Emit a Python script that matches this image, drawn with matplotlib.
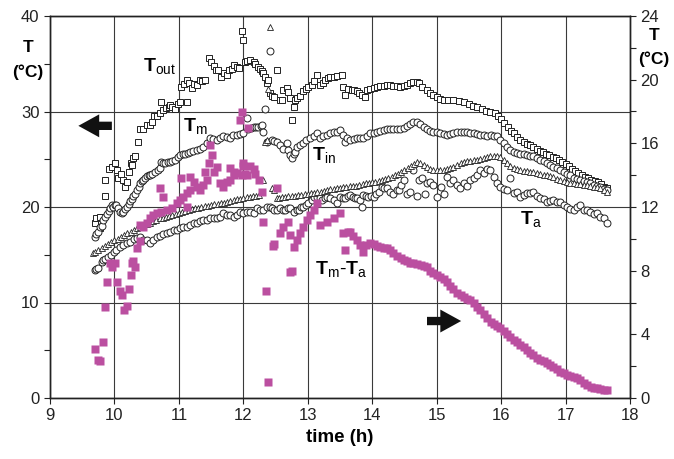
import matplotlib.pyplot as plt
import numpy as np

plt.rcParams['font.family'] = ['Liberation Sans', 'DejaVu Sans']
plt.rcParams['mathtext.fontset'] = 'custom'
plt.rcParams['mathtext.rm'] = 'Liberation Sans'
plt.rcParams['mathtext.bf'] = 'Liberation Sans:bold'

# outlet temperature (open squares), degC
out_t = [9.70, 9.72, 9.78, 9.78, 9.85, 9.85, 9.91, 9.96, 10.01, 10.04, 10.06, 10.10, 10.14, 10.16,
         10.19, 10.22, 10.25, 10.27, 10.29, 10.32, 10.37, 10.40, 10.45, 10.50, 10.55, 10.58, 10.62,
         10.66, 10.71, 10.73, 10.76, 10.80, 10.84, 10.86, 10.90, 10.94, 10.99, 11.02, 11.04, 11.08,
         11.12, 11.12, 11.16, 11.20, 11.24, 11.28, 11.32, 11.36, 11.41, 11.46, 11.50, 11.55, 11.58,
         11.61, 11.66, 11.70, 11.74, 11.78, 11.82, 11.86, 11.90, 11.94, 11.98, 12.00, 12.03, 12.06,
         12.11, 12.16, 12.18, 12.23, 12.26, 12.29, 12.31, 12.34, 12.36, 12.39, 12.42, 12.44, 12.47,
         12.52, 12.57, 12.60, 12.62, 12.67, 12.70, 12.73, 12.75, 12.78, 12.80, 12.84, 12.88, 12.93,
         12.97, 13.01, 13.06, 13.10, 13.14, 13.19, 13.23, 13.27, 13.31, 13.35, 13.40, 13.45, 13.53,
         13.55, 13.58, 13.63, 13.68, 13.72, 13.76, 13.80, 13.84, 13.89, 13.92, 13.97, 14.02, 14.07,
         14.12, 14.18, 14.23, 14.28, 14.33, 14.38, 14.43, 14.49, 14.54, 14.59, 14.64, 14.69, 14.73,
         14.78, 14.85, 14.90, 14.95, 15.00, 15.05, 15.11, 15.18, 15.26, 15.35, 15.43, 15.50, 15.57,
         15.63, 15.70, 15.77, 15.83, 15.90, 15.95, 16.00, 16.05, 16.10, 16.15, 16.20, 16.25, 16.30,
         16.35, 16.40, 16.45, 16.50, 16.55, 16.60, 16.65, 16.70, 16.75, 16.80, 16.85, 16.90, 16.95,
         17.00, 17.05, 17.10, 17.15, 17.20, 17.25, 17.30, 17.35, 17.40, 17.45, 17.50, 17.55, 17.60,
         17.64]
out_v = [18.3, 18.8, 19.0, 17.8, 21.1, 22.8, 24.0, 24.2, 24.6, 23.9, 23.0, 23.5, 22.8, 22.1,
         22.6, 23.7, 24.6, 24.4, 25.1, 25.3, 26.8, 28.2, 28.2, 28.6, 28.6, 28.9, 29.5,
         29.5, 29.8, 31.0, 30.2, 30.4, 30.5, 30.7, 30.5, 30.3, 30.8, 31.0, 32.6, 32.9,
         33.3, 31.0, 33.0, 32.5, 32.9, 32.8, 33.3, 33.2, 33.3, 35.6, 35.2, 34.8, 34.3,
         34.3, 33.6, 34.0, 33.8, 34.3, 34.5, 34.9, 34.7, 34.6, 38.4, 37.5, 35.2, 35.3,
         35.4, 35.2, 35.0, 34.7, 34.4, 34.2, 34.0, 33.6, 33.0, 33.3, 31.9, 31.6, 31.5,
         34.3, 31.2, 31.2, 32.3, 32.5, 32.0, 31.4, 29.1, 30.5, 31.2, 31.4, 31.6, 32.1,
         32.4, 32.6, 32.8, 33.2, 33.8, 32.8, 33.0, 33.3, 33.5, 33.6, 33.6, 33.7, 33.8,
         32.6, 31.7, 32.4, 32.3, 32.2, 32.1, 31.9, 31.7, 31.5, 32.2, 32.4, 32.5, 32.6,
         32.7, 32.7, 32.8, 32.8, 32.7, 32.7, 32.6, 32.7, 32.8, 33.0, 33.1, 33.1, 33.0,
         32.6, 32.2, 31.9, 31.7, 31.5, 31.3, 31.2, 31.2, 31.2, 31.1, 31.0, 30.8, 30.6,
         30.5, 30.3, 30.1, 30.0, 29.8, 29.5, 29.2, 28.8, 28.4, 28.0, 27.7, 27.3, 27.0,
         26.8, 26.6, 26.5, 26.3, 26.1, 25.9, 25.8, 25.6, 25.4, 25.2, 25.1, 24.9, 24.7,
         24.5, 24.3, 24.0, 23.8, 23.6, 23.4, 23.1, 23.0, 22.8, 22.7, 22.6, 22.4, 22.1,
         22.0]

# inlet temperature (open circles, upper band)
in_t = [9.70, 9.72, 9.75, 9.78, 9.80, 9.83, 9.86, 9.88, 9.91, 9.93, 9.96, 9.98, 10.01, 10.03,
        10.06, 10.09, 10.12, 10.14, 10.17, 10.19, 10.22, 10.24, 10.27, 10.29, 10.32, 10.35, 10.38,
        10.40, 10.43, 10.45, 10.48, 10.50, 10.53, 10.55, 10.59, 10.63, 10.67, 10.71, 10.73, 10.76,
        10.79, 10.83, 10.86, 10.90, 10.94, 10.98, 11.02, 11.06, 11.10, 11.14, 11.17, 11.22, 11.28,
        11.33, 11.38, 11.43, 11.48, 11.53, 11.59, 11.64, 11.69, 11.74, 11.79, 11.84, 11.90, 11.95,
        12.00, 12.05, 12.08, 12.12, 12.16, 12.20, 12.23, 12.27, 12.29, 12.31, 12.34, 12.36, 12.42,
        12.44, 12.48, 12.52, 12.57, 12.62, 12.67, 12.70, 12.73, 12.75, 12.78, 12.80, 12.83, 12.88,
        12.93, 12.98, 13.04, 13.09, 13.14, 13.19, 13.24, 13.30, 13.35, 13.40, 13.45, 13.50, 13.55,
        13.58, 13.61, 13.66, 13.71, 13.76, 13.81, 13.86, 13.92, 13.97, 14.02, 14.07, 14.12, 14.18,
        14.23, 14.28, 14.33, 14.38, 14.43, 14.49, 14.54, 14.59, 14.64, 14.69, 14.74, 14.80, 14.85,
        14.90, 14.95, 15.00, 15.05, 15.11, 15.16, 15.21, 15.26, 15.31, 15.37, 15.42, 15.47, 15.52,
        15.58, 15.63, 15.68, 15.73, 15.78, 15.84, 15.89, 15.94, 15.99, 16.04, 16.09, 16.14, 16.20,
        16.25, 16.30, 16.35, 16.40, 16.45, 16.50, 16.55, 16.60, 16.66, 16.71, 16.76, 16.81, 16.86,
        16.92, 16.97, 17.02, 17.07, 17.13, 17.18, 17.23, 17.28, 17.33, 17.38, 17.44, 17.49, 17.54,
        17.59, 17.64]
in_v = [16.9, 17.2, 17.4, 17.9, 18.0, 18.6, 19.0, 19.3, 19.6, 19.85, 20.2, 20.0, 20.2, 20.2,
        19.9, 19.5, 19.4, 19.5, 19.8, 20.0, 20.3, 20.6, 20.8, 21.1, 21.4, 21.8, 22.1,
        22.5, 22.7, 22.8, 23.0, 23.2, 23.3, 23.35, 23.5, 23.7, 23.9, 24.05, 24.75, 24.6,
        24.6, 24.7, 24.75, 24.8, 24.9, 25.2, 25.45, 25.5, 25.6, 25.7, 25.8, 25.9, 26.0,
        26.1, 26.3, 26.7, 27.2, 27.1, 27.0, 27.2, 27.4, 27.3, 27.2, 27.5, 27.55, 27.6,
        27.7, 29.3, 28.2, 28.3, 28.4, 28.4, 28.4, 28.5, 28.6, 27.9, 30.3, 26.8, 36.3,
        27.0, 26.9, 26.8, 26.5, 26.1, 26.7, 25.97, 25.45, 25.1, 25.6, 25.8, 26.3, 26.5,
        26.7, 27.0, 27.2, 27.4, 27.7, 27.2, 27.4, 27.55, 27.7, 27.9, 27.9, 28.1, 27.55,
        26.8, 27.2, 27.0, 27.1, 27.2, 27.2, 27.2, 27.4, 27.7, 27.8, 27.9, 28.0, 28.1,
        28.2, 28.2, 28.2, 28.2, 28.2, 28.3, 28.5, 28.7, 28.9, 28.9, 28.7, 28.4, 28.2,
        28.0, 27.9, 27.9, 27.7, 27.6, 27.5, 27.6, 27.8, 27.9, 27.9, 27.9, 27.9, 27.8,
        27.7, 27.6, 27.5, 27.5, 27.4, 27.5, 27.4, 27.4, 27.0, 26.7, 26.3, 26.0, 25.8,
        25.7, 25.6, 25.5, 25.4, 25.3, 25.3, 25.1, 24.9, 24.8, 24.6, 24.4, 24.2, 24.1,
        23.9, 23.7, 23.5, 23.3, 23.0, 22.9, 22.8, 22.7, 22.65, 22.5, 22.3, 22.2, 22.1,
        21.9, 21.8]

# mean temperature (open triangles)
m_t = [9.67, 9.70, 9.75, 9.80, 9.85, 9.90, 9.95, 10.00, 10.05, 10.10, 10.15, 10.20, 10.25, 10.30,
       10.35, 10.40, 10.45, 10.50, 10.55, 10.60, 10.65, 10.70, 10.75, 10.80, 10.85, 10.90, 10.95,
       11.00, 11.05, 11.10, 11.15, 11.20, 11.25, 11.30, 11.35, 11.40, 11.45, 11.50, 11.55, 11.60,
       11.65, 11.70, 11.75, 11.80, 11.85, 11.90, 11.95, 12.00, 12.05, 12.10, 12.15, 12.20, 12.25,
       12.31, 12.34, 12.36, 12.39, 12.42, 12.44, 12.48, 12.52, 12.56, 12.60, 12.65, 12.70, 12.75,
       12.80, 12.85, 12.90, 12.95, 13.00, 13.05, 13.10, 13.15, 13.20, 13.25, 13.30, 13.35, 13.40,
       13.45, 13.50, 13.55, 13.60, 13.65, 13.70, 13.75, 13.80, 13.85, 13.90, 13.95, 14.00, 14.05,
       14.10, 14.15, 14.20, 14.25, 14.30, 14.35, 14.40, 14.45, 14.50, 14.55, 14.60, 14.65, 14.69,
       14.74, 14.80, 14.85, 14.90, 14.95, 15.00, 15.05, 15.11, 15.16, 15.21, 15.26, 15.31, 15.37,
       15.42, 15.47, 15.52, 15.58, 15.63, 15.68, 15.73, 15.78, 15.83, 15.89, 15.94, 15.99, 16.04,
       16.09, 16.14, 16.20, 16.25, 16.30, 16.35, 16.40, 16.45, 16.50, 16.55, 16.61, 16.66, 16.71,
       16.76, 16.81, 16.86, 16.92, 16.97, 17.02, 17.07, 17.13, 17.18, 17.23, 17.28, 17.33, 17.38,
       17.44, 17.49, 17.54, 17.59, 17.64]
m_v = [15.2, 15.3, 15.5, 15.7, 15.9, 16.1, 16.3, 16.5, 16.7, 16.9, 17.1, 17.3, 17.4, 17.6,
       17.8, 17.9, 18.0, 18.2, 18.3, 18.5, 18.6, 18.8, 18.9, 19.0, 19.1, 19.2, 19.3,
       19.4, 19.5, 19.6, 19.7, 19.8, 19.85, 19.9, 20.0, 20.1, 20.15, 20.2, 20.3, 20.35,
       20.4, 20.45, 20.5, 20.6, 20.7, 20.8, 20.85, 20.9, 21.0, 21.0, 21.1, 21.2, 21.3,
       22.8, 26.8, 27.0, 32.4, 38.9, 21.96, 21.8, 20.9, 20.95, 21.0, 21.05, 21.1, 21.15,
       21.2, 21.25, 21.3, 21.35, 21.4, 21.45, 21.5, 21.55, 21.6, 21.7, 21.8, 21.85, 21.9,
       21.95, 22.0, 22.05, 22.1, 22.15, 22.2, 22.25, 22.3, 22.4, 22.5, 22.55, 22.6, 22.65,
       22.7, 22.8, 22.9, 23.0, 23.1, 23.3, 23.5, 23.7, 23.9, 24.1, 24.3, 24.5, 24.7,
       24.6, 24.4, 24.2, 24.0, 23.9, 23.9, 23.9, 23.9, 24.0, 24.1, 24.2, 24.4, 24.6,
       24.7, 24.8, 24.85, 24.9, 24.9, 25.0, 25.1, 25.2, 25.3, 25.3, 25.3, 25.2, 24.9,
       24.6, 24.3, 24.1, 24.0, 23.9, 23.8, 23.75, 23.7, 23.7, 23.6, 23.5, 23.4, 23.35,
       23.2, 23.1, 22.95, 22.8, 22.7, 22.6, 22.55, 22.5, 22.45, 22.4, 22.35, 22.3, 22.2,
       22.1, 22.05, 22.0, 21.8, 21.6]

# ambient temperature (open circles, lower band)
a_t = [9.70, 9.72, 9.75, 9.80, 9.83, 9.86, 9.90, 9.95, 10.00, 10.03, 10.08, 10.14, 10.19, 10.24,
       10.30, 10.35, 10.40, 10.45, 10.50, 10.55, 10.60, 10.66, 10.71, 10.76, 10.81, 10.86, 10.92,
       10.97, 11.02, 11.07, 11.12, 11.17, 11.23, 11.28, 11.33, 11.38, 11.43, 11.48, 11.54, 11.59,
       11.64, 11.69, 11.74, 11.79, 11.85, 11.90, 11.95, 12.00, 12.05, 12.10, 12.16, 12.21, 12.26,
       12.31, 12.36, 12.41, 12.44, 12.48, 12.52, 12.57, 12.62, 12.65, 12.70, 12.73, 12.78, 12.83,
       12.86, 12.90, 12.93, 12.98, 13.01, 13.06, 13.10, 13.14, 13.19, 13.22, 13.26, 13.30, 13.35,
       13.40, 13.45, 13.50, 13.55, 13.58, 13.62, 13.66, 13.70, 13.73, 13.77, 13.81, 13.84, 13.86,
       13.90, 13.94, 13.98, 14.02, 14.06, 14.10, 14.15, 14.19, 14.23, 14.28, 14.33, 14.38, 14.41,
       14.45, 14.49, 14.54, 14.59, 14.64, 14.69, 14.72, 14.77, 14.82, 14.85, 14.90, 14.95, 15.00,
       15.06, 15.11, 15.16, 15.21, 15.26, 15.31, 15.36, 15.42, 15.47, 15.52, 15.58, 15.63, 15.68,
       15.73, 15.78, 15.83, 15.89, 15.94, 15.99, 16.04, 16.09, 16.14, 16.20, 16.25, 16.30, 16.35,
       16.40, 16.45, 16.50, 16.55, 16.61, 16.66, 16.71, 16.76, 16.81, 16.86, 16.92, 16.97, 17.02,
       17.07, 17.13, 17.18, 17.23, 17.28, 17.33, 17.38, 17.44, 17.49, 17.54, 17.59, 17.64]
a_v = [13.4, 13.5, 13.6, 14.2, 14.45, 14.6, 14.8, 15.0, 15.3, 15.5, 15.8, 16.0, 16.2, 16.37,
       16.6, 16.72, 16.9, 16.5, 16.55, 16.2, 16.5, 16.9, 17.0, 17.2, 17.24, 17.4, 17.6,
       17.6, 17.8, 17.95, 17.94, 18.1, 18.3, 18.3, 18.5, 18.64, 18.64, 18.8, 18.8, 18.8,
       19.0, 19.33, 19.2, 19.16, 19.0, 19.16, 19.5, 19.33, 19.5, 19.5, 19.33, 19.86, 19.7,
       19.68, 20.0, 20.03, 19.86, 19.7, 19.68, 19.86, 19.68, 19.68, 19.86, 19.86, 19.5, 19.68,
       19.68, 20.03, 20.03, 20.2, 20.38, 20.73, 21.0, 21.08, 20.9, 20.73, 20.9, 21.08, 20.9,
       20.73, 20.38, 21.08, 20.9, 20.9, 21.1, 21.26, 21.0, 20.9, 20.9, 20.73, 20.03, 21.26,
       21.1, 21.08, 21.1, 21.08, 21.4, 21.61, 22.13, 22.0, 21.96, 21.6, 21.4, 21.8, 21.78,
       22.3, 22.83, 21.4, 21.6, 23.87, 21.1, 22.8, 23.0, 21.4, 22.48, 22.65, 22.3, 21.08,
       22.13, 21.4, 23.17, 22.5, 22.83, 22.3, 22.0, 22.48, 22.2, 22.83, 23.0, 23.3, 23.87,
       23.52, 24.0, 23.87, 23.17, 22.48, 22.13, 21.9, 21.78, 23.0, 21.43, 21.6, 21.08, 21.3,
       21.43, 21.5, 21.6, 21.2, 20.9, 20.8, 20.56, 20.6, 20.7, 20.5, 20.56, 20.2, 20.0,
       19.8, 19.7, 20.0, 20.2, 19.7, 19.7, 19.5, 19.3, 19.4, 19.0, 18.8, 18.3]

# Tm - Ta (filled squares, right axis)
d_t = [9.70, 9.75, 9.77, 9.83, 9.85, 9.89, 9.93, 9.96, 10.01, 10.04, 10.09, 10.12, 10.15, 10.19,
       10.22, 10.25, 10.28, 10.29, 10.32, 10.35, 10.39, 10.40, 10.45, 10.50, 10.55, 10.60, 10.66,
       10.71, 10.73, 10.76, 10.81, 10.89, 10.97, 11.02, 11.04, 11.07, 11.12, 11.12, 11.17, 11.17,
       11.23, 11.28, 11.33, 11.38, 11.41, 11.43, 11.46, 11.48, 11.51, 11.54, 11.59, 11.64, 11.69,
       11.74, 11.79, 11.80, 11.85, 11.85, 11.90, 11.95, 11.98, 11.98, 12.00, 12.00, 12.03, 12.05,
       12.08, 12.10, 12.16, 12.18, 12.25, 12.29, 12.31, 12.35, 12.39, 12.46, 12.48, 12.52, 12.57,
       12.62, 12.70, 12.72, 12.73, 12.75, 12.78, 12.83, 12.88, 12.93, 12.99, 13.04, 13.09, 13.14,
       13.19, 13.30, 13.40, 13.50, 13.55, 13.58, 13.62, 13.66, 13.70, 13.76, 13.81, 13.86, 13.91,
       13.97, 14.02, 14.07, 14.12, 14.18, 14.23, 14.28, 14.33, 14.38, 14.44, 14.49, 14.54, 14.59,
       14.64, 14.69, 14.75, 14.80, 14.85, 14.90, 14.95, 15.00, 15.05, 15.11, 15.16, 15.21, 15.26,
       15.32, 15.37, 15.42, 15.47, 15.52, 15.58, 15.63, 15.68, 15.73, 15.78, 15.84, 15.89, 15.94,
       15.99, 16.04, 16.09, 16.14, 16.20, 16.25, 16.30, 16.35, 16.40, 16.45, 16.50, 16.56, 16.61,
       16.66, 16.71, 16.76, 16.81, 16.86, 16.92, 16.97, 17.02, 17.07, 17.13, 17.18, 17.23, 17.28,
       17.33, 17.39, 17.44, 17.49, 17.54, 17.59, 17.64]
d_v = [3.1, 2.4, 2.3, 3.5, 5.7, 7.3, 8.46, 8.2, 8.46, 7.3, 6.74, 6.5, 5.5, 5.8,
       6.83, 7.7, 8.46, 8.58, 8.2, 9.4, 9.86, 10.87, 10.76, 10.97, 11.29, 11.5, 11.6,
       13.17, 11.7, 12.64, 11.8, 11.92, 12.23, 12.44, 13.8, 12.64, 12.86, 12.02, 13.07, 13.9,
       13.59, 13.27, 13.07, 13.38, 14.2, 13.69, 14.74, 15.9, 15.26, 14.2, 14.53, 13.49, 13.27,
       13.59, 14.43, 13.7, 14.0, 14.2, 14.11, 17.46, 14.0, 17.98, 14.74, 14.6, 14.1, 14.0,
       16.94, 14.6, 14.4, 14.1, 13.7, 12.96, 11.07, 6.74, 1.02, 9.55, 9.67, 13.17, 10.35,
       10.76, 11.07, 7.93, 10.24, 8.0, 9.5, 9.92, 10.35, 10.76, 11.18, 11.49, 11.81, 12.23,
       10.87, 11.07, 11.29, 11.6, 10.35, 9.3, 10.45, 10.4, 10.2, 9.92, 9.6, 9.19, 9.6,
       9.72, 9.65, 9.55, 9.5, 9.45, 9.4, 9.3, 9.1, 8.95, 8.8, 8.67, 8.6, 8.5,
       8.46, 8.4, 8.35, 8.3, 8.2, 8.0, 7.85, 7.73, 7.6, 7.45, 7.3, 7.05, 6.85,
       6.58, 6.45, 6.35, 6.25, 6.16, 5.95, 5.74, 5.5, 5.25, 5.0, 4.8, 4.65, 4.5,
       4.38, 4.2, 4.0, 3.85, 3.65, 3.5, 3.35, 3.22, 3.0, 2.85, 2.7, 2.49, 2.4,
       2.3, 2.2, 2.07, 1.95, 1.8, 1.65, 1.55, 1.45, 1.38, 1.3, 1.24, 1.1, 0.95,
       0.8, 0.71, 0.65, 0.6, 0.57, 0.52, 0.5]

magenta = '#bb4fa0'

fig = plt.figure(figsize=(6.74, 4.59), dpi=100)
ax = fig.add_axes([50 / 674, 1 - 398 / 459, 580 / 674, 382 / 459])
ax2 = ax.twinx()

ax.plot(out_t, out_v, 's', ms=4.6, mfc='white', mec='#222222', mew=0.7, zorder=3)
ax.plot(in_t, in_v, 'o', ms=5.0, mfc='white', mec='#222222', mew=0.7, zorder=3)
ax.plot(a_t, a_v, 'o', ms=5.0, mfc='white', mec='#222222', mew=0.7, zorder=3)
ax.plot(m_t, m_v, '^', ms=4.0, mfc='white', mec='#222222', mew=0.6, zorder=4)
ax2.plot(d_t, d_v, 's', ms=5.6, color=magenta, mec='none', zorder=3)

ax.set_xlim(9, 18)
ax.set_ylim(0, 40)
ax2.set_ylim(0, 24)
ax.set_xticks(range(9, 19))
ax.set_yticks(range(0, 41, 10))
ax.set_yticks(range(5, 40, 10), minor=True)
ax2.set_yticks(range(0, 25, 4))
ax2.set_yticks(range(2, 24, 4), minor=True)

ax.grid(True, color='#3a3a3a', lw=0.8)
ax.set_axisbelow(True)
for a in (ax, ax2):
    a.tick_params(which='both', direction='out', length=4, width=0.8, labelsize=12, colors='#222222')
    for s in a.spines.values():
        s.set_linewidth(1.0)
        s.set_color('#222222')

ax.set_xlabel('time (h)', fontsize=13.5, fontweight='bold', labelpad=4)
fig.text(28 / 674, 1 - 48 / 459, 'T', fontsize=12.5, fontweight='bold', ha='center', va='center')
fig.text(28 / 674, 1 - 72 / 459, '(°C)', fontsize=12.5, fontweight='bold', ha='center', va='center')
fig.text(654 / 674, 1 - 36 / 459, 'T', fontsize=12.5, fontweight='bold', ha='center', va='center')
fig.text(654 / 674, 1 - 59 / 459, '(°C)', fontsize=12.5, fontweight='bold', ha='center', va='center')

# series labels
lab = dict(fontsize=14, ha='left', va='baseline', zorder=6)
ax.text(10.44, 34.2, r'$\mathbf{T}_{\mathrm{out}}$', **lab)
ax.text(11.07, 27.85, r'$\mathbf{T}_{\mathrm{m}}$', **lab)
ax.text(13.06, 24.8, r'$\mathbf{T}_{\mathrm{in}}$', **lab)
ax.text(16.30, 18.1, r'$\mathbf{T}_{\mathrm{a}}$', **lab)
ax.text(13.11, 12.9, r'$\mathbf{T}_{\mathrm{m}}$-$\mathbf{T}_{\mathrm{a}}$', **lab)

# axis arrows
arw = dict(arrowstyle='simple,head_length=1.0,head_width=1.1,tail_width=0.4',
           mutation_scale=15, fc='#111111', ec='none', shrinkA=0, shrinkB=0)
ax.annotate('', xy=(9.44, 28.5), xytext=(9.96, 28.5), arrowprops=arw)
ax.annotate('', xy=(15.38, 8.06), xytext=(14.85, 8.06), arrowprops=arw)

fig.savefig('out.png', dpi=100)
